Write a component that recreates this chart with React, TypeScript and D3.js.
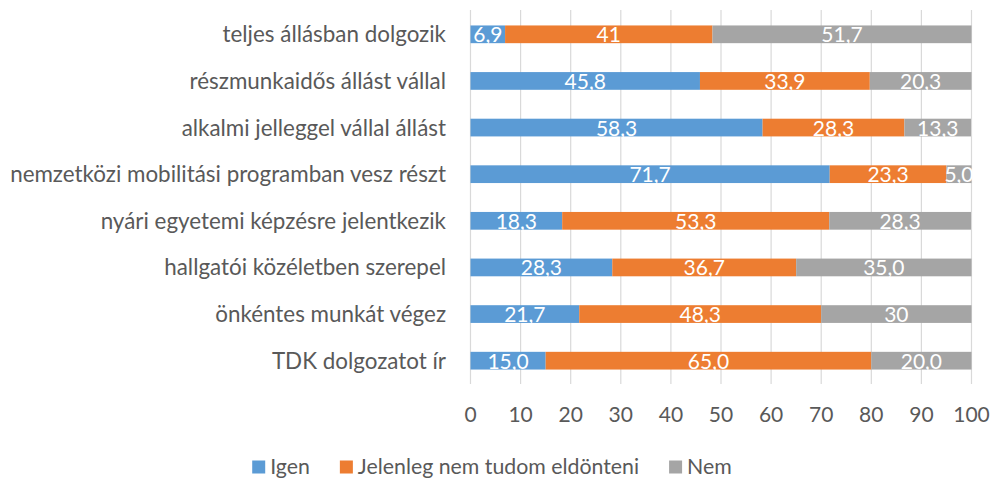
import React, { useEffect, useRef } from "react";
import * as d3 from "d3";

const categories = [
  "teljes állásban dolgozik",
  "részmunkaidős állást vállal",
  "alkalmi jelleggel vállal állást",
  "nemzetközi mobilitási programban vesz részt",
  "nyári egyetemi képzésre jelentkezik",
  "hallgatói közéletben szerepel",
  "önkéntes munkát végez",
  "TDK dolgozatot ír",
];
const seriesNames = ["Igen", "Jelenleg nem tudom eldönteni", "Nem"];
const igenValues = [6.9, 45.8, 58.3, 71.7, 18.3, 28.3, 21.7, 15.0];
const jelenlegValues = [41.4, 33.9, 28.3, 23.3, 53.3, 36.7, 48.3, 65.0];
const nemValues = [51.7, 20.3, 13.3, 5.0, 28.3, 35.0, 30, 20.0];
const igenLabels = ["6,9", "45,8", "58,3", "71,7", "18,3", "28,3", "21,7", "15,0"];
const jelenlegLabels = ["41", "33,9", "28,3", "23,3", "53,3", "36,7", "48,3", "65,0"];
const nemLabels = ["51,7", "20,3", "13,3", "5,0", "28,3", "35,0", "30", "20,0"];
const xTicks = [0, 10, 20, 30, 40, 50, 60, 70, 80, 90, 100];

const colors = ["#5B9BD5", "#ED7D31", "#A5A5A5"];
const FONT = "Lato, 'Open Sans', sans-serif";
const TEXT = "#595959";

export default function App() {
  const ref = useRef<SVGSVGElement>(null);
  useEffect(() => {
    const svg = d3.select(ref.current);
    svg.selectAll("*").remove();
    const x = d3.scaleLinear().domain([0, 100]).range([470.5, 971.5]);
    const y = d3.scaleBand<string>().domain(categories).range([11, 384]).paddingInner(0.62).paddingOuter(0.31);

    // gridlines
    svg.append("g").selectAll("line").data(xTicks).join("line")
      .attr("x1", (d) => x(d)).attr("x2", (d) => x(d))
      .attr("y1", 10).attr("y2", 384)
      .attr("stroke", "#D9D9D9").attr("stroke-width", 1.2);

    const series = [igenValues, jelenlegValues, nemValues];
    const labels = [igenLabels, jelenlegLabels, nemLabels];
    const rows = categories.map((c, i) => ({ c, vals: series.map((s) => s[i]) }));
    const stacked = d3.stack<any>().keys(["0", "1", "2"]).value((d: any, k) => d.vals[+k])(rows);

    stacked.forEach((layer, si) => {
      const g = svg.append("g");
      g.selectAll("rect").data(layer).join("rect")
        .attr("x", (d) => x(d[0]))
        .attr("width", (d) => x(d[1]) - x(d[0]))
        .attr("y", (_d, i) => y(categories[i])!)
        .attr("height", y.bandwidth())
        .attr("fill", colors[si]);
      g.selectAll("text").data(layer).join("text")
        .attr("x", (d) => (x(d[0]) + x(d[1])) / 2)
        .attr("y", (_d, i) => y(categories[i])! + y.bandwidth() / 2 + 8)
        .attr("text-anchor", "middle")
        .attr("fill", "#FFFFFF")
        .attr("font-family", FONT)
        .attr("font-size", 21)
        .text((_d, i) => labels[si][i]);
    });

    // category labels
    svg.append("g").selectAll("text").data(categories).join("text")
      .attr("x", 446)
      .attr("y", (d) => y(d)! + y.bandwidth() / 2 + 8)
      .attr("text-anchor", "end")
      .attr("fill", TEXT)
      .attr("font-family", FONT)
      .attr("font-size", 22.4)
      .text((d) => d);

    // x tick labels
    svg.append("g").selectAll("text").data(xTicks).join("text")
      .attr("x", (d) => x(d))
      .attr("y", 422)
      .attr("text-anchor", "middle")
      .attr("fill", TEXT)
      .attr("font-family", FONT)
      .attr("font-size", 21)
      .text((d) => String(d));

    // legend
    const lg = svg.append("g");
    let cx = 0;
    seriesNames.forEach((name, i) => {
      const it = lg.append("g");
      it.append("rect").attr("x", cx).attr("y", 460.5).attr("width", 13).attr("height", 13).attr("fill", colors[i]);
      const t = it.append("text").attr("x", cx + 18).attr("y", 474)
        .attr("fill", TEXT).attr("font-family", FONT).attr("font-size", 21.3).text(name);
      const w = (t.node() as SVGTextElement).getComputedTextLength();
      cx += 18 + w + 30;
    });
    const total = cx - 30;
    lg.attr("transform", `translate(${492 - total / 2},0)`);
  }, []);
  return (
    <svg ref={ref} width={992} height={479}
      style={{ position: "absolute", left: 0, top: 0, background: "#fff", display: "block" }} />
  );
}
